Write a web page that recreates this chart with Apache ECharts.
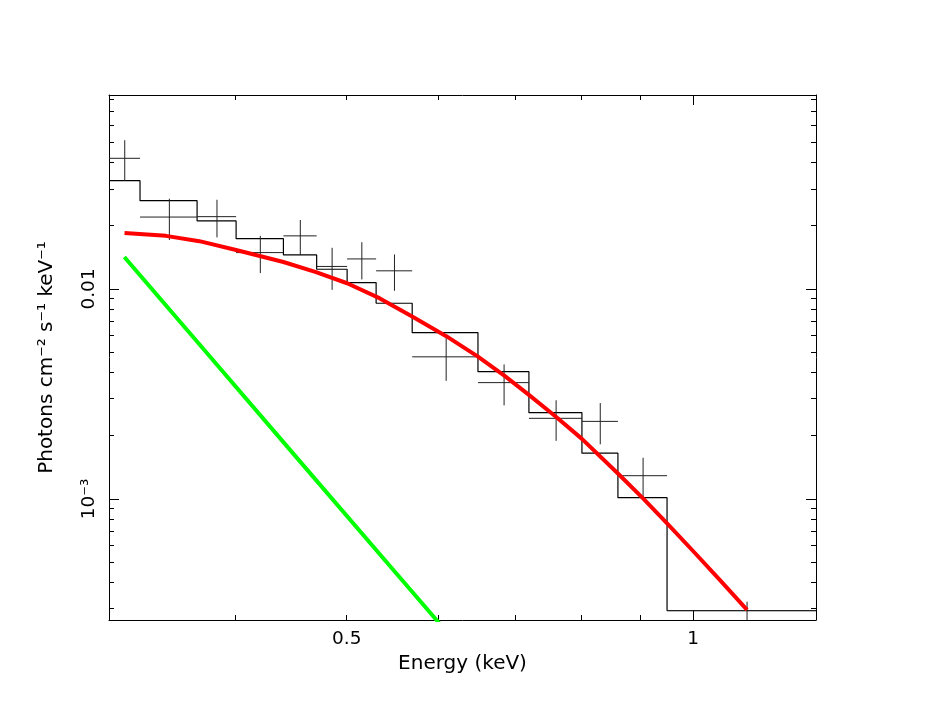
<!DOCTYPE html>
<html><head><meta charset="utf-8">
<script src="https://cdn.jsdelivr.net/npm/echarts@6/dist/echarts.min.js"></script>
<style>html,body{margin:0;padding:0;background:#fff}#c{width:926px;height:716px}</style>
</head><body><div id="c"></div>
<script>
// Energy bins (keV)
const binLo = [0.3107,0.3306,0.3706,0.4007,0.4405,0.4708,0.5004,0.5303,0.5700,0.6502,0.7200,0.8006,0.8604,0.9493];
const binHi = [0.3306,0.3706,0.4007,0.4405,0.4708,0.5004,0.5303,0.5700,0.6502,0.7200,0.8006,0.8604,0.9493,1.279];
// Unfolded data and 1-sigma errors (photons cm^-2 s^-1 keV^-1)
const dataY   = [0.0419,0.0220,0.0221,0.0149,0.0179,0.0128,0.0139,0.0122,0.00475,0.00358,0.00242,0.00234,0.00129,0.000294];
const dataErr = [0.0092,0.0049,0.0045,0.0030,0.0034,0.0029,0.0028,0.0024,0.0011,0.00079,0.00053,0.00052,0.00028,0.00003];
// Total model (histogram)
const modelY  = [0.0328,0.02634,0.02108,0.01736,0.01452,0.01241,0.01072,0.008549,0.006193,0.004038,0.002576,0.001651,0.001014,0.0002938];
// Model component 1 (red)
const redE = [0.3205,0.3482,0.3723,0.4007,0.4405,0.4702,0.5004,0.5338,0.5700,0.6102,0.6502,0.6854,0.7200,0.7600,0.8006,0.8604,0.9048,0.9493,1.0,1.0549,1.1142];
const redY = [0.01848,0.017902,0.016891,0.015334,0.013434,0.012023,0.010645,0.009042,0.007396,0.005959,0.004761,0.003866,0.003131,0.002462,0.001932,0.001322,0.001005,0.0007643,0.0005648,0.0004119,0.0002961];
// Model component 2 (green)
const greenE = [0.3204,0.3723,0.4547,0.5556,0.5984,0.6788];
const greenY = [0.0142,0.005454,0.001522,0.0004248,0.000265,0.0001182];
// Axes
const xMin = 0.3107, xMax = 1.279, yMin = 0.000265, yMax = 0.0839;
const xLabelVals = [0.5, 1];
const xMajorTicks = [1];
const xMinorTicks = [0.4,0.5,0.6,0.7,0.8,0.9];
const yLabelVals = [0.001, 0.01];
const yMajorTicks = [0.001, 0.01];
const yMinorTicks = [0.0003,0.0004,0.0005,0.0006,0.0007,0.0008,0.0009,0.002,0.003,0.004,0.005,0.006,0.007,0.008,0.009,0.02,0.03,0.04,0.05,0.06,0.07,0.08];

const FONT = 'DejaVu Sans';
const chart = echarts.init(document.getElementById('c'), null, {renderer:'canvas'});

function xAx(pos, ticks, len, showLine, labels) {
  return {
    type:'log', logBase:10, min:xMin, max:xMax, position:pos,
    axisLine:{show:showLine, onZero:false, lineStyle:{color:'#000', width:1}},
    axisTick:{show:true, inside:true, length:len, customValues:ticks, lineStyle:{color:'#000', width:1}},
    axisLabel: labels ? {show:true, customValues:labels, margin:10, color:'#000', fontFamily:FONT, fontSize:18.5,
      formatter: v => (Math.abs(v-1)<1e-9 ? '1' : String(+v.toPrecision(3)))} : {show:false},
    splitLine:{show:false}, minorTick:{show:false}
  };
}
function yAx(pos, ticks, len, showLine, labels) {
  return {
    type:'log', logBase:10, min:yMin, max:yMax, position:pos,
    axisLine:{show:showLine, onZero:false, lineStyle:{color:'#000', width:1}},
    axisTick:{show:true, inside:true, length:len, customValues:ticks, lineStyle:{color:'#000', width:1}},
    axisLabel: labels ? {show:true, customValues:labels, rotate:90, margin:10, color:'#000', fontFamily:FONT, fontSize:18.5,
      formatter: v => (Math.abs(v-0.01)<1e-9 ? '0.01' : '10\u207B\u00B3')} : {show:false},
    splitLine:{show:false}, minorTick:{show:false}
  };
}

const xAxes = [xAx('bottom', xMajorTicks, 10, true, xLabelVals), xAx('bottom', xMinorTicks, 5, false, null),
               xAx('top', xMajorTicks, 10, true, null), xAx('top', xMinorTicks, 5, false, null)];
xAxes[0].name = 'Energy (keV)';
xAxes[0].nameLocation = 'middle';
xAxes[0].nameGap = 34;
xAxes[0].nameTextStyle = {color:'#000', fontFamily:FONT, fontSize:20};
const yAxes = [yAx('left', yMajorTicks, 10, true, yLabelVals), yAx('left', yMinorTicks, 5, false, null),
               yAx('right', yMajorTicks, 10, true, null), yAx('right', yMinorTicks, 5, false, null)];
yAxes[0].name = 'Photons cm\u207B\u00B2 s\u207B\u00B9 keV\u207B\u00B9';
yAxes[0].nameLocation = 'middle';
yAxes[0].nameGap = 52;
yAxes[0].nameTextStyle = {color:'#000', fontFamily:FONT, fontSize:20};

// Build derived series data
const stepData = [];
for (let i = 0; i < binLo.length; i++) { stepData.push([binLo[i], modelY[i]]); stepData.push([binHi[i], modelY[i]]); }
const crossData = binLo.map((lo, i) => [(lo + binHi[i]) / 2, dataY[i], lo, binHi[i], dataErr[i]]);
const redData = redE.map((e, i) => [e, redY[i]]);
const greenData = greenE.map((e, i) => [e, greenY[i]]);

chart.setOption({
  animation:false,
  backgroundColor:'#fff',
  grid:{left:109, top:95, width:707, height:525, containLabel:false},
  xAxis:xAxes, yAxis:yAxes,
  series:[
    {type:'line', name:'model', data:stepData, xAxisIndex:0, yAxisIndex:0, symbol:'none', clip:true,
     lineStyle:{color:'#000', width:1.2}, z:3},
    {type:'custom', name:'data', data:crossData, xAxisIndex:0, yAxisIndex:0, clip:true, encode:{x:0, y:1}, z:4,
     renderItem:(params, api) => {
       const xc = api.value(0), y = api.value(1), lo = api.value(2), hi = api.value(3), e = api.value(4);
       const pL = api.coord([lo, y]), pR = api.coord([hi, y]);
       const pT = api.coord([xc, y + e]);
       const pB = api.coord([xc, Math.max(y - e, 1e-7)]);
       const st = {stroke:'#222', lineWidth:1};
       return {type:'group', children:[
         {type:'line', shape:{x1:pL[0], y1:pL[1], x2:pR[0], y2:pR[1]}, style:st},
         {type:'line', shape:{x1:pT[0], y1:pT[1], x2:pB[0], y2:pB[1]}, style:st}
       ]};
     }},
    {type:'line', name:'comp1', data:redData, xAxisIndex:0, yAxisIndex:0, symbol:'none', smooth:false, clip:true,
     lineStyle:{color:'#ff0000', width:4, join:'round'}, z:5},
    {type:'line', name:'comp2', data:greenData, xAxisIndex:0, yAxisIndex:0, symbol:'none', clip:true,
     lineStyle:{color:'#00ff00', width:4}, z:5}
  ]
});
</script></body></html>
